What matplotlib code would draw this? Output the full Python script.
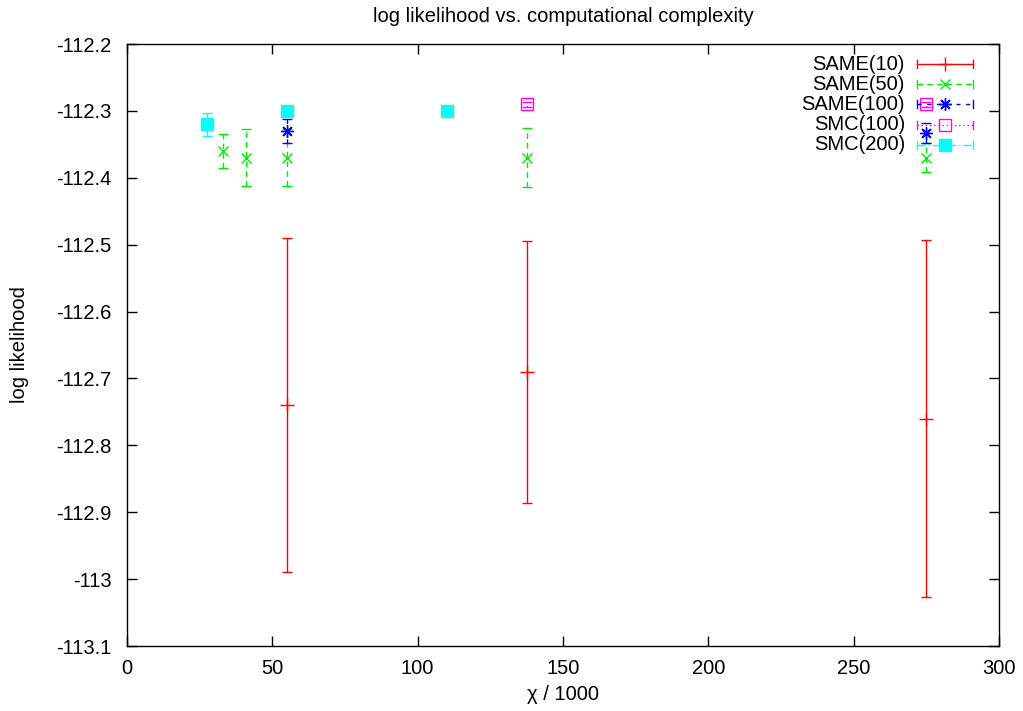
import matplotlib
matplotlib.use("Agg")
import matplotlib.pyplot as plt
from matplotlib.ticker import FuncFormatter, MultipleLocator
from matplotlib.lines import Line2D

plt.rcParams['font.family'] = ['Liberation Sans', 'DejaVu Sans']

# Data (x in units of 1000, mean log likelihood, error half-width)
same10_x = [55, 137.5, 275]
same10_y = [-112.74, -112.69, -112.76]
same10_e = [0.25, 0.196, 0.267]

same50_x = [33, 41, 55, 137.5, 275]
same50_y = [-112.36, -112.37, -112.37, -112.37, -112.37]
same50_e = [0.026, 0.043, 0.043, 0.044, 0.022]

same100_x = [55, 275]
same100_y = [-112.33, -112.333]
same100_e = [0.018, 0.015]

smc100_x = [137.5, 275]
smc100_y = [-112.29, -112.29]
smc100_e = [0.004, 0.004]

smc200_x = [27.5, 55, 110]
smc200_y = [-112.32, -112.30, -112.30]
smc200_e = [0.017, 0.006, 0.002]

labels = ["SAME(10)", "SAME(50)", "SAME(100)", "SMC(100)", "SMC(200)"]
xticks = [0, 50, 100, 150, 200, 250, 300]

W, H = 1023, 711
FS = 14.5
fig = plt.figure(figsize=(W / 100, H / 100), dpi=100)
ax = fig.add_axes([127 / W, 1 - 646 / H, (999 - 127) / W, (646 - 44) / H])

series = [
    (same10_x, same10_y, same10_e, '#ff0000', '+', '-', 10, 'none'),
    (same50_x, same50_y, same50_e, '#00ee00', 'x', (0, (4, 3)), 7.5, 'none'),
    (same100_x, same100_y, same100_e, '#0000ff', (8, 2, 0), (0, (3, 4)), 9, 'none'),
    (smc100_x, smc100_y, smc100_e, '#ff00ff', 's', (0, (1, 2)), 8, 'none'),
    (smc200_x, smc200_y, smc200_e, '#00ffff', 's', (0, (6, 2, 1, 2)), 8, 'full'),
]

for i, (x, y, e, c, m, ls, ms, fill) in enumerate(series):
    mfc = 'none' if fill == 'none' else c
    cont = ax.errorbar(x, y, yerr=e, fmt='none', ecolor=c, elinewidth=1.0,
                       capsize=3.5, capthick=1.0)
    for lc in cont.lines[2]:
        lc.set_linestyle(ls)
    ax.plot(x, y, linestyle='none', marker=m, color=c, markersize=ms,
            markerfacecolor=mfc, markeredgewidth=1.0)

    # gnuplot-style key entry (figure pixel coordinates -> fractions)
    yp = 64 + 20.2 * i
    fy = 1 - yp / H
    fig.text(905 / W, fy, labels[i], ha='right', va='center', fontsize=FS)
    fig.add_artist(Line2D([917 / W, 973 / W], [fy, fy], color=c, linestyle=ls,
                          linewidth=1.0, transform=fig.transFigure))
    for xe in (917, 973):
        fig.add_artist(Line2D([xe / W, xe / W], [fy - 4 / H, fy + 4 / H],
                              color=c, linewidth=1.0, transform=fig.transFigure))
    fig.add_artist(Line2D([945 / W], [fy], linestyle='none', marker=m, color=c,
                          markersize=ms, markerfacecolor=mfc, markeredgewidth=1.0,
                          transform=fig.transFigure))

ax.set_xlim(0, 300)
ax.set_ylim(-113.1, -112.2)
ax.set_xticks(xticks)
ax.yaxis.set_major_locator(MultipleLocator(0.1))
ax.yaxis.set_major_formatter(FuncFormatter(lambda v, p: "%g" % round(v, 1)))
ax.tick_params(axis='y', direction='in', right=True, length=7, width=1,
               labelsize=FS, pad=11, colors='black')
ax.tick_params(axis='x', direction='in', top=True, length=7, width=1,
               labelsize=FS, pad=9, colors='black')
for s in ax.spines.values():
    s.set_linewidth(1.0)

fig.text(563 / W, 1 - 16 / H, "log likelihood vs. computational complexity",
         ha='center', va='center', fontsize=FS)
fig.text(563 / W, 1 - 695 / H, "χ / 1000", ha='center', va='center', fontsize=FS)
fig.text(20 / W, 1 - 345 / H, "log likelihood", ha='center', va='center',
         rotation=90, fontsize=FS)

fig.savefig("out.png", dpi=100)
